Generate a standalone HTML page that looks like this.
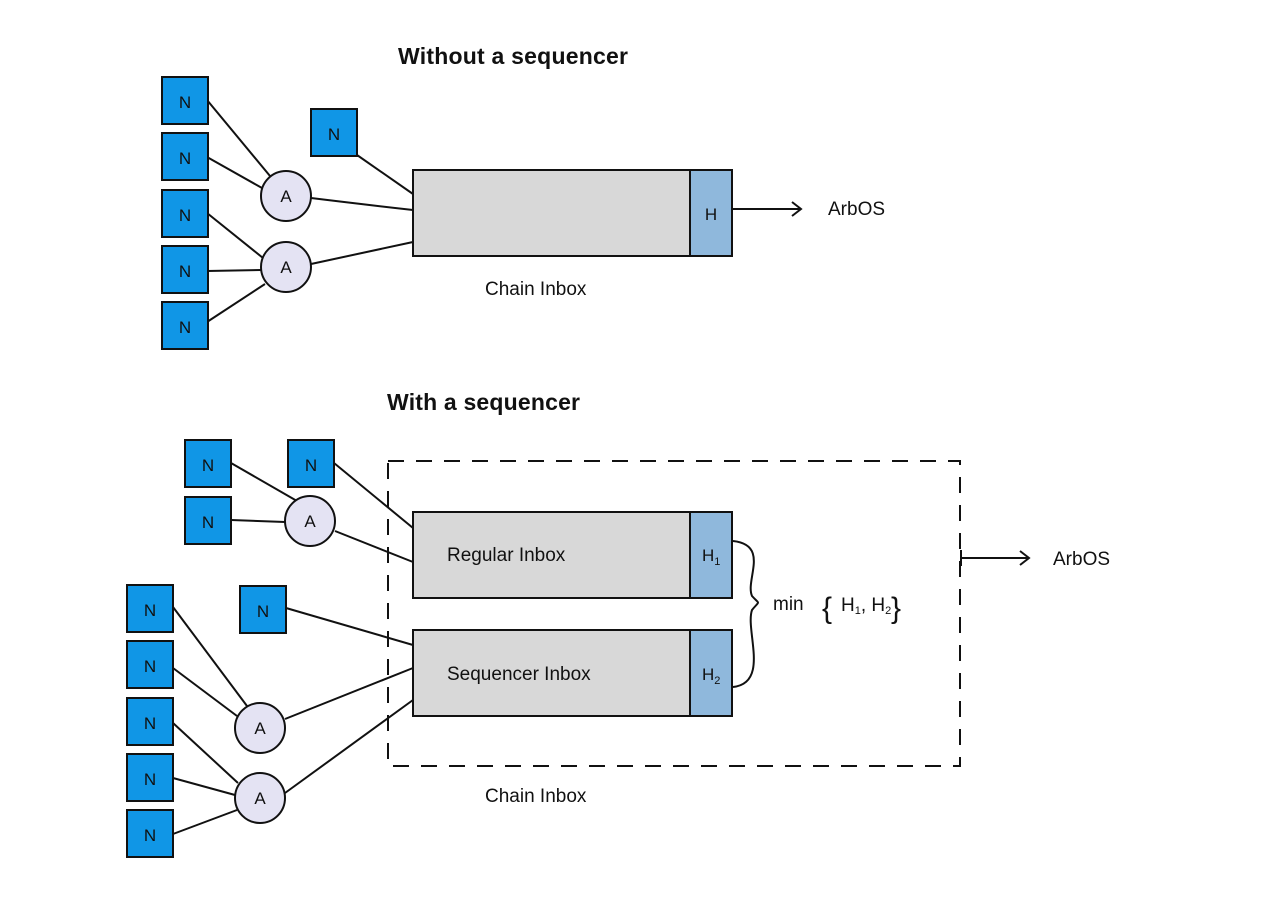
<!DOCTYPE html>
<html><head><meta charset="utf-8"><style>
html,body{margin:0;padding:0;background:#fff;}
svg{display:block;}
text{font-family:"Liberation Sans",sans-serif;fill:#111;}
</style></head><body>
<svg width="1280" height="905" viewBox="0 0 1280 905" xmlns="http://www.w3.org/2000/svg">
<defs>
<g id="n"><rect x="0" y="0" width="46" height="47" fill="#1096e6" stroke="#111" stroke-width="2"/><text x="23" y="31" font-size="17" text-anchor="middle" fill="#0a2a40">N</text></g>
</defs>
<g stroke="#111" stroke-width="2" fill="none">
<path d="M207 100 L270 176"/><path d="M207 157 L262 188"/><path d="M311 198 Q360 204 413 210"/>
<path d="M357 155 L413 194"/><path d="M207 213 L263 258"/><path d="M207 271 L261 270"/>
<path d="M207 322 L265 284"/><path d="M311 264 L413 242"/>
<path d="M231 463 L297 501"/><path d="M231 520 L285 522"/><path d="M334 463 L413 528"/>
<path d="M335 531 L413 562"/><path d="M286 608 L413 645"/><path d="M285 719 L413 668"/>
<path d="M173 607 L247 706"/><path d="M173 668 L237 716"/><path d="M173 723 L238 783"/>
<path d="M173 778 L235 795"/><path d="M173 834 L237 810"/><path d="M285 793 L413 700"/>
</g>
<use href="#n" x="162" y="77"/><use href="#n" x="162" y="133"/><use href="#n" x="162" y="190"/>
<use href="#n" x="162" y="246"/><use href="#n" x="162" y="302"/><use href="#n" x="311" y="109"/>
<use href="#n" x="185" y="440"/><use href="#n" x="288" y="440"/><use href="#n" x="185" y="497"/>
<use href="#n" x="240" y="586"/>
<use href="#n" x="127" y="585"/><use href="#n" x="127" y="641"/><use href="#n" x="127" y="698"/>
<use href="#n" x="127" y="754"/><use href="#n" x="127" y="810"/>
<g fill="#e4e3f3" stroke="#111" stroke-width="2">
<circle cx="286" cy="196" r="25"/><circle cx="286" cy="267" r="25"/>
<circle cx="310" cy="521" r="25"/><circle cx="260" cy="728" r="25"/><circle cx="260" cy="798" r="25"/>
</g>
<g font-size="17" text-anchor="middle">
<text x="286" y="202">A</text><text x="286" y="273">A</text><text x="310" y="527">A</text>
<text x="260" y="734">A</text><text x="260" y="804">A</text>
</g>
<rect x="413" y="170" width="277" height="86" fill="#d8d8d8" stroke="#111" stroke-width="2"/>
<rect x="690" y="170" width="42" height="86" fill="#8fb8dc" stroke="#111" stroke-width="2"/>
<text x="711" y="220" font-size="17" text-anchor="middle">H</text>
<path d="M732 209 L800 209 M792 202 L801 209 L792 216" stroke="#111" stroke-width="2" fill="none"/>
<text x="828" y="215" font-size="19">ArbOS</text>
<text x="485" y="295" font-size="19">Chain Inbox</text>
<text x="398" y="64" font-size="23" font-weight="bold" textLength="230">Without a sequencer</text>
<text x="387" y="410" font-size="23" font-weight="bold" textLength="193">With a sequencer</text>
<rect x="388" y="461" width="572" height="305" fill="none" stroke="#111" stroke-width="2" stroke-dasharray="16,12"/>
<rect x="413" y="512" width="277" height="86" fill="#d8d8d8" stroke="#111" stroke-width="2"/>
<rect x="690" y="512" width="42" height="86" fill="#8fb8dc" stroke="#111" stroke-width="2"/>
<rect x="413" y="630" width="277" height="86" fill="#d8d8d8" stroke="#111" stroke-width="2"/>
<rect x="690" y="630" width="42" height="86" fill="#8fb8dc" stroke="#111" stroke-width="2"/>
<text x="447" y="561" font-size="19">Regular Inbox</text>
<text x="447" y="680" font-size="19">Sequencer Inbox</text>
<text x="702" y="561" font-size="17">H<tspan font-size="11" dy="4">1</tspan></text>
<text x="702" y="680" font-size="17">H<tspan font-size="11" dy="4">2</tspan></text>
<path d="M733 541 C770 545 745 580 752 596 C760 605 760 600 752 610 C745 630 770 683 733 687" stroke="#111" stroke-width="2" fill="none"/>
<text x="773" y="610" font-size="19">min</text>
<text x="822" y="618" font-size="30">{</text>
<text x="841" y="611" font-size="19">H<tspan font-size="11" dy="3">1</tspan><tspan dy="-3">, H</tspan><tspan font-size="11" dy="3">2</tspan></text>
<text x="891" y="618" font-size="30">}</text>
<path d="M961 558 L1028 558 M1020 551 L1029 558 L1020 565 M961 550 L961 566" stroke="#111" stroke-width="2" fill="none"/>
<text x="1053" y="565" font-size="19">ArbOS</text>
<text x="485" y="802" font-size="19">Chain Inbox</text>
</svg>
</body></html>
